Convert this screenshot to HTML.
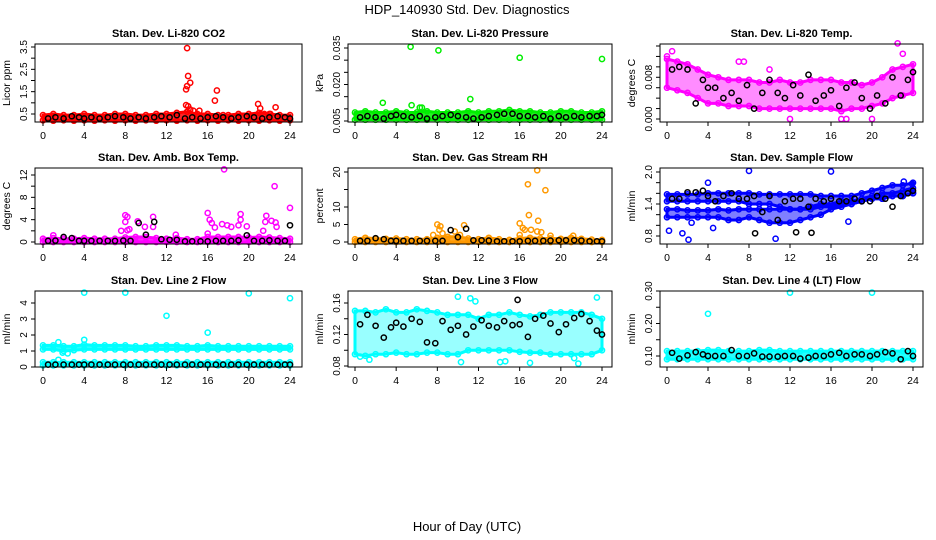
<!DOCTYPE html>
<html><head><meta charset="utf-8"><style>
html,body{margin:0;padding:0;background:#fff;}
svg{display:block;font-family:"Liberation Sans",sans-serif;}
</style></head><body>
<svg id="chart" width="936" height="540" viewBox="0 0 936 540">
<text x="467" y="14" text-anchor="middle" font-size="13">HDP_140930  Std. Dev. Diagnostics</text>
<text x="467" y="531" text-anchor="middle" font-size="13">Hour of Day (UTC)</text>
</svg>
<script>
const hours = [0,1,2,3,4,5,6,7,8,9,10,11,12,13,14,15,16,17,18,19,20,21,22,23,24];
const blackHours = [0.5,1.2,2,2.8,3.5,4,4.7,5.5,6.3,7,7.8,8.5,9.3,10,10.8,11.5,12.3,13,13.8,14.5,15.3,16,16.8,17.5,18.3,19,19.8,20.5,21.3,22,22.8,23.5,24];

const co2Lo = [0.22,0.2,0.22,0.2,0.22,0.2,0.22,0.2,0.22,0.2,0.22,0.2,0.22,0.2,0.22,0.2,0.22,0.2,0.22,0.2,0.22,0.2,0.22,0.2,0.22];
const co2Hi = [0.45,0.5,0.45,0.45,0.5,0.45,0.45,0.5,0.5,0.45,0.45,0.5,0.5,0.55,0.6,0.5,0.5,0.45,0.45,0.5,0.5,0.55,0.5,0.45,0.45];
const co2Black = [0.3,0.35,0.3,0.4,0.35,0.3,0.35,0.3,0.35,0.4,0.35,0.3,0.35,0.3,0.35,0.4,0.35,0.45,0.3,0.35,0.3,0.35,0.4,0.35,0.3,0.35,0.4,0.35,0.3,0.35,0.4,0.35,0.3];
const co2OutX = [14,14.1,14.3,13.9,14,13.9,14.1,14.3,14.6,15.2,16.7,16.9,20.9,21.1,21.5,22.1,22.6,17.5];
const co2OutY = [3.45,2.2,1.9,1.6,1.75,0.9,0.85,0.7,0.65,0.65,1.1,1.55,0.95,0.75,0.5,0.5,0.8,0.45];

const presLo = [0.0055,0.0055,0.0055,0.0055,0.0055,0.0055,0.0055,0.0055,0.0055,0.0055,0.0055,0.0055,0.0055,0.0055,0.0055,0.0055,0.0055,0.0055,0.0055,0.0055,0.0055,0.0055,0.0055,0.0055,0.0055];
const presHi = [0.0085,0.009,0.0085,0.0085,0.009,0.0085,0.0085,0.009,0.0085,0.0085,0.0085,0.009,0.0085,0.009,0.009,0.0095,0.009,0.009,0.0085,0.0085,0.009,0.009,0.0085,0.0085,0.009];
const presBlack = [0.0065,0.007,0.0065,0.006,0.007,0.0075,0.007,0.0065,0.007,0.006,0.0065,0.007,0.0075,0.007,0.0065,0.006,0.0065,0.007,0.0075,0.008,0.008,0.007,0.007,0.0065,0.007,0.006,0.007,0.0065,0.007,0.0065,0.007,0.007,0.0075];
const presOutX = [5.4,8.1,16,24,11.2,5.5,6.5,2.7,6.3];
const presOutY = [0.0355,0.034,0.031,0.0305,0.014,0.0115,0.0105,0.0125,0.0105];

const tempLo = [0.006,0.0055,0.005,0.004,0.003,0.003,0.0025,0.0025,0.0025,0.002,0.002,0.002,0.002,0.002,0.002,0.002,0.002,0.0015,0.002,0.002,0.0025,0.003,0.004,0.0045,0.005];
const tempHi = [0.0115,0.011,0.0105,0.0095,0.0085,0.008,0.0075,0.0075,0.0075,0.007,0.007,0.0075,0.007,0.007,0.0075,0.0075,0.0075,0.007,0.007,0.0065,0.007,0.008,0.0095,0.01,0.0105];
const tempBlack = [0.0095,0.01,0.0095,0.003,0.0075,0.006,0.006,0.004,0.005,0.0035,0.0065,0.002,0.005,0.0075,0.005,0.004,0.0065,0.0045,0.0085,0.0035,0.0045,0.0055,0.0025,0.006,0.007,0.004,0.002,0.0045,0.003,0.008,0.0045,0.0075,0.009];
const tempOutX = [0,0.5,7,7.5,12,17,17.5,20,22.5,23,10];
const tempOutY = [0.012,0.013,0.011,0.011,0,0,0,0,0.0145,0.0125,0.0095];

const ambLo = [0,0,0,0,0,0,0,0,0,0,0,0,0,0,0,0,0,0,0,0,0,0,0,0,0];
const ambHi = [0.6,0.7,0.6,0.6,0.7,0.6,0.6,0.6,0.8,0.9,0.9,0.7,0.6,0.7,0.5,0.5,0.9,0.9,0.9,0.9,0.8,0.9,0.8,0.7,0.6];
const ambBlack = [0.2,0.25,0.9,0.7,0.2,0.2,0.2,0.2,0.2,0.2,0.25,0.2,3.4,1.3,3.6,0.5,0.4,0.4,0.1,0.1,0.1,0.1,0.2,0.2,0.2,0.3,1.2,0.2,0.2,0.3,0.2,0.2,3.0];
const ambOutX = [17.6,22.5,24,8,8.2,8,9.2,10.7,10.7,9.9,7.6,8.2,8.4,16,16.2,16.4,16.7,16,17.4,17.9,18.3,19.2,19.2,19,19.8,21.7,21.6,22.2,22.6,22.7,21.4,1,12.9];
const ambOutY = [13,10,6.1,4.8,4.5,3.6,3.7,4.5,2.7,2.7,2,2.1,2.3,5.2,4,3.4,2.6,1.5,3.2,3,2.7,5,4,3,2.8,4.7,3.6,3.8,3.5,2.7,2,1.2,1.3];

const rhLo = [0,0,0,0,0,0,0,0,0,0,0,0,0,0,0,0,0,0,0,0,0,0,0,0,0];
const rhHi = [0.8,1.2,0.9,0.9,1,0.8,0.8,0.8,1.2,1.5,1.5,1,0.8,1.2,0.8,0.6,1,1.2,1,1,0.9,1.2,0.9,0.7,0.6];
const rhBlack = [0.3,0.3,1.1,0.8,0.3,0.3,0.3,0.3,0.3,0.3,0.3,0.3,3.4,1.4,3.8,0.5,0.5,0.4,0.2,0.2,0.2,0.2,0.3,0.3,0.3,0.4,0.5,0.5,0.5,0.4,0.2,0.2,0.2];
const rhOutX = [17.7,16.8,18.5,16.9,17.8,16,16.3,16.5,17.1,17.7,18.1,16,8,8.3,8.2,8.5,7.6,9.7,10.6,10.2,19,21.2];
const rhOutY = [20.5,16.5,14.8,7.7,6.1,5.3,4,3.5,3.5,3,2.8,2,5,4.5,3.5,2.5,2,3,4.8,2,1.8,1.8];

const flowUpLo = [1.45,1.45,1.45,1.45,1.45,1.45,1.45,1.45,1.4,1.4,1.4,1.35,1.3,1.3,1.3,1.35,1.35,1.4,1.4,1.45,1.5,1.5,1.55,1.55,1.6];
const flowUpHi = [1.58,1.58,1.58,1.58,1.6,1.6,1.6,1.6,1.6,1.58,1.58,1.58,1.58,1.58,1.58,1.55,1.55,1.55,1.55,1.6,1.65,1.7,1.75,1.75,1.8];
const flowDnLo = [1.15,1.15,1.15,1.15,1.15,1.15,1.1,1.1,1.15,1.1,1.05,1.05,1.05,1.1,1.15,1.2,1.3,1.35,1.4,1.45,1.5,1.5,1.55,1.55,1.6];
const flowDnHi = [1.3,1.3,1.28,1.28,1.28,1.3,1.28,1.3,1.3,1.3,1.3,1.3,1.3,1.3,1.35,1.4,1.4,1.45,1.45,1.5,1.55,1.6,1.6,1.65,1.7];
const flowBlack = [1.5,1.5,1.62,1.62,1.65,1.55,1.45,1.55,1.6,1.5,1.5,1.55,1.25,1.55,1.1,1.45,1.5,1.5,1.35,1.5,1.45,1.5,1.45,1.45,1.5,1.45,1.45,1.55,1.5,1.35,1.55,1.6,1.65];
const flowOutX = [0.2,1.5,2.1,2.4,4,4.5,8,10.6,16,17.7,23.1,23.9];
const flowOutY = [0.9,0.85,0.73,1.05,1.8,0.95,2.02,0.75,2.01,1.07,1.82,1.78];
const flowBlackOutX = [8.6,12.6,14.1];
const flowBlackOutY = [0.85,0.87,0.86];

const l2UpLo = [1.1,1.1,1.0,1.05,1.1,1.1,1.1,1.1,1.1,1.1,1.1,1.1,1.1,1.1,1.1,1.1,1.1,1.1,1.1,1.1,1.1,1.1,1.1,1.1,1.1];
const l2UpHi = [1.35,1.35,1.3,1.3,1.4,1.35,1.35,1.35,1.35,1.3,1.3,1.35,1.35,1.35,1.3,1.3,1.35,1.3,1.3,1.3,1.3,1.3,1.3,1.3,1.3];
const l2DnLo = [0.1,0.1,0.1,0.1,0.1,0.1,0.1,0.1,0.1,0.1,0.1,0.1,0.1,0.1,0.1,0.1,0.1,0.1,0.1,0.1,0.1,0.1,0.1,0.1,0.1];
const l2DnHi = [0.3,0.3,0.3,0.3,0.3,0.3,0.3,0.3,0.3,0.3,0.3,0.3,0.3,0.3,0.3,0.3,0.3,0.3,0.3,0.3,0.3,0.3,0.3,0.3,0.3];
const l2Black = [0.15,0.15,0.15,0.15,0.15,0.15,0.15,0.15,0.15,0.15,0.15,0.15,0.15,0.15,0.15,0.15,0.15,0.15,0.15,0.15,0.15,0.15,0.15,0.15,0.15,0.15,0.15,0.15,0.15,0.15,0.15,0.15,0.15];
const l2OutX = [4,8,20,24,12,16,4,1.5,1.5,2.4,1.9];
const l2OutY = [4.65,4.65,4.6,4.3,3.2,2.15,1.7,1.55,0.45,0.85,0.9];

const l3Lo = [0.095,0.093,0.095,0.095,0.097,0.095,0.095,0.097,0.097,0.095,0.095,0.1,0.1,0.1,0.1,0.1,0.098,0.097,0.097,0.095,0.095,0.095,0.095,0.095,0.1];
const l3Hi = [0.15,0.15,0.148,0.152,0.148,0.148,0.152,0.15,0.148,0.145,0.145,0.145,0.14,0.145,0.145,0.148,0.145,0.143,0.145,0.148,0.148,0.148,0.148,0.145,0.14];
const l3Black = [0.133,0.145,0.131,0.116,0.129,0.135,0.13,0.14,0.136,0.11,0.109,0.137,0.126,0.131,0.12,0.13,0.138,0.131,0.129,0.137,0.132,0.133,0.117,0.14,0.144,0.134,0.123,0.133,0.141,0.146,0.137,0.125,0.12];
const l3OutX = [10,11.2,11.7,23.5,0.5,1.4,10.3,14.1,14.6,17,21.3,21.7];
const l3OutY = [0.168,0.166,0.162,0.167,0.092,0.088,0.085,0.085,0.086,0.084,0.09,0.083];
const l3BlackOutX = [15.8];
const l3BlackOutY = [0.164];

const l4Lo = [0.09,0.09,0.09,0.09,0.09,0.09,0.09,0.09,0.09,0.09,0.09,0.09,0.09,0.09,0.09,0.09,0.09,0.09,0.09,0.09,0.09,0.09,0.09,0.09,0.09];
const l4Hi = [0.115,0.115,0.115,0.115,0.118,0.118,0.115,0.115,0.115,0.118,0.118,0.115,0.115,0.115,0.115,0.115,0.115,0.115,0.115,0.115,0.115,0.115,0.115,0.115,0.115];
const l4Black = [0.11,0.092,0.102,0.112,0.105,0.1,0.1,0.1,0.118,0.1,0.1,0.108,0.098,0.098,0.098,0.1,0.1,0.092,0.095,0.1,0.1,0.105,0.11,0.1,0.105,0.105,0.1,0.105,0.112,0.108,0.09,0.115,0.1];
const l4OutX = [12,20,4];
const l4OutY = [0.295,0.295,0.23];

const xTicks = [0,4,8,12,16,20,24];

const NS = 'http://www.w3.org/2000/svg';
const svg = document.getElementById('chart');
function mk(tag, attrs, parent){
  const e = document.createElementNS(NS, tag);
  for (const k in attrs) e.setAttribute(k, attrs[k]);
  (parent||svg).appendChild(e);
  return e;
}
const cols = [{L:35,R:302,x0:43,x24:290},{L:348,R:612,x0:355,x24:602},{L:660,R:923,x0:667,x24:913}];
const rows = [{T:44,B:122},{T:168,B:244},{T:291,B:367}];

const panels = [
 {id:'co2',title:'Stan. Dev. Li-820 CO2',ylab:'Licor ppm',col:0,row:0,color:'#ff0000',op:0.85,
  v1:0.5,y1:114,v2:3.5,y2:47,ticks:[0.5,1,1.5,2,2.5,3,3.5],labels:[0.5,1.5,2.5,3.5],dec:1,
  bands:[[co2Lo,co2Hi]],black:co2Black,ox:co2OutX,oy:co2OutY},
 {id:'pressure',title:'Stan. Dev. Li-820 Pressure',ylab:'kPa',col:1,row:0,color:'#00ee00',op:0.85,
  v1:0.005,y1:121,v2:0.035,y2:48,ticks:[0.005,0.01,0.015,0.02,0.025,0.03,0.035],labels:[0.005,0.02,0.035],dec:3,
  bands:[[presLo,presHi]],black:presBlack,ox:presOutX,oy:presOutY},
 {id:'temp',title:'Stan. Dev. Li-820 Temp.',ylab:'degrees C',col:2,row:0,color:'#ff00ff',op:0.45,
  v1:0,y1:119,v2:0.014,y2:46,ticks:[0,0.002,0.004,0.006,0.008,0.01,0.012,0.014],labels:[0,0.008],dec:3,
  bands:[[tempLo,tempHi]],black:tempBlack,ox:tempOutX,oy:tempOutY},
 {id:'ambbox',title:'Stan. Dev. Amb. Box Temp.',ylab:'degrees C',col:0,row:1,color:'#ff00ff',op:0.85,
  v1:0,y1:242,v2:12,y2:175,ticks:[0,2,4,6,8,10,12],labels:[0,4,8,12],dec:0,
  bands:[[ambLo,ambHi]],black:ambBlack,ox:ambOutX,oy:ambOutY},
 {id:'rh',title:'Stan. Dev. Gas Stream RH',ylab:'percent',col:1,row:1,color:'#ff9900',op:0.85,
  v1:0,y1:242,v2:20,y2:172,ticks:[0,5,10,15,20],labels:[0,5,10,20],dec:0,
  bands:[[rhLo,rhHi]],black:rhBlack,ox:rhOutX,oy:rhOutY},
 {id:'sampleflow',title:'Stan. Dev. Sample Flow',ylab:'ml/min',col:2,row:1,color:'#0000ff',op:0.5,
  v1:0.8,y1:236,v2:2.0,y2:172,ticks:[0.8,1,1.2,1.4,1.6,1.8,2],labels:[0.8,1.4,2.0],dec:1,
  bands:[[flowUpLo,flowUpHi],[flowDnLo,flowDnHi]],black:flowBlack,ox:flowOutX,oy:flowOutY,bx:flowBlackOutX,by:flowBlackOutY},
 {id:'line2',title:'Stan. Dev. Line 2 Flow',ylab:'ml/min',col:0,row:2,color:'#00ffff',op:0.85,
  v1:0,y1:367,v2:4,y2:303,ticks:[0,1,2,3,4],labels:[0,1,2,3,4],dec:0,
  bands:[[l2UpLo,l2UpHi],[l2DnLo,l2DnHi]],black:l2Black,ox:l2OutX,oy:l2OutY},
 {id:'line3',title:'Stan. Dev. Line 3 Flow',ylab:'ml/min',col:1,row:2,color:'#00ffff',op:0.4,
  v1:0.08,y1:366,v2:0.16,y2:303,ticks:[0.08,0.1,0.12,0.14,0.16],labels:[0.08,0.12,0.16],dec:2,
  bands:[[l3Lo,l3Hi]],black:l3Black,ox:l3OutX,oy:l3OutY,bx:l3BlackOutX,by:l3BlackOutY},
 {id:'line4',title:'Stan. Dev. Line 4 (LT) Flow',ylab:'ml/min',col:2,row:2,color:'#00ffff',op:0.85,
  v1:0.1,y1:356,v2:0.3,y2:291,ticks:[0.1,0.15,0.2,0.25,0.3],labels:[0.1,0.2,0.3],dec:2,
  bands:[[l4Lo,l4Hi]],black:l4Black,ox:l4OutX,oy:l4OutY}
];

function circ(g, x, y, color, name){
  const c = mk('circle',{cx:x.toFixed(1),cy:y.toFixed(1),r:2.6,fill:'none',stroke:color,'stroke-width':1.5},g);
  
  
}

panels.forEach(p=>{
  const c = cols[p.col], r = rows[p.row];
  const xs = h => c.x0 + (h/24)*(c.x24-c.x0);
  const ys = v => p.y1 + (v-p.v1)*(p.y2-p.y1)/(p.v2-p.v1);
  const g = mk('g',{});
  
  
  const t = mk('text',{x:(c.L+c.R)/2,y:r.T-7,'text-anchor':'middle','font-size':11,'font-weight':'bold'},g);
  t.textContent = p.title;
  
  
  p.bands.forEach(b=>{
    const lo=b[0], hi=b[1];
    let pts=[];
    hours.forEach((h,i)=>pts.push(xs(h).toFixed(1)+','+ys(hi[i]).toFixed(1)));
    for(let i=hours.length-1;i>=0;i--) pts.push(xs(hours[i]).toFixed(1)+','+ys(lo[i]).toFixed(1));
    const poly = mk('polygon',{points:pts.join(' '),fill:p.color,'fill-opacity':p.op,stroke:p.color,'stroke-width':3,'stroke-linejoin':'round'},g);
    
    
    hours.forEach((h,i)=>{ circ(g,xs(h),ys(lo[i]),p.color,'point'); circ(g,xs(h),ys(hi[i]),p.color,'point'); });
  });
  p.ox.forEach((x,i)=>circ(g,xs(x),ys(p.oy[i]),p.color,'outlier-point'));
  blackHours.forEach((h,i)=>circ(g,xs(h),ys(p.black[i]),'#000','reference-point'));
  if(p.bx) p.bx.forEach((x,i)=>circ(g,xs(x),ys(p.by[i]),'#000','reference-point'));
  const box = mk('rect',{x:c.L,y:r.T,width:c.R-c.L,height:r.B-r.T,fill:'none',stroke:'#000','stroke-width':1},g);
  
  
  xTicks.forEach(h=>{
    const l = mk('line',{x1:xs(h),x2:xs(h),y1:r.B,y2:r.B+4,stroke:'#000'},g);
    
    
    const tx = mk('text',{x:xs(h),y:r.B+17,'text-anchor':'middle','font-size':10.5},g);
    tx.textContent = h;
    
    
  });
  p.ticks.forEach(v=>{
    const l = mk('line',{x1:c.L-4,x2:c.L,y1:ys(v),y2:ys(v),stroke:'#000'},g);
    
    
  });
  p.labels.forEach(v=>{
    const y = ys(v), x = c.L-8;
    const tx = mk('text',{x:x,y:y,'text-anchor':'middle','font-size':10,transform:'rotate(-90 '+x+' '+y+')'},g);
    tx.textContent = v.toFixed(p.dec);
    
    
  });
  const yx = c.L-25, yy=(r.T+r.B)/2;
  const yl = mk('text',{x:yx,y:yy,'text-anchor':'middle','font-size':10.5,transform:'rotate(-90 '+yx+' '+yy+')'},g);
  yl.textContent = p.ylab;
  
  
});
</script>
</body></html>
